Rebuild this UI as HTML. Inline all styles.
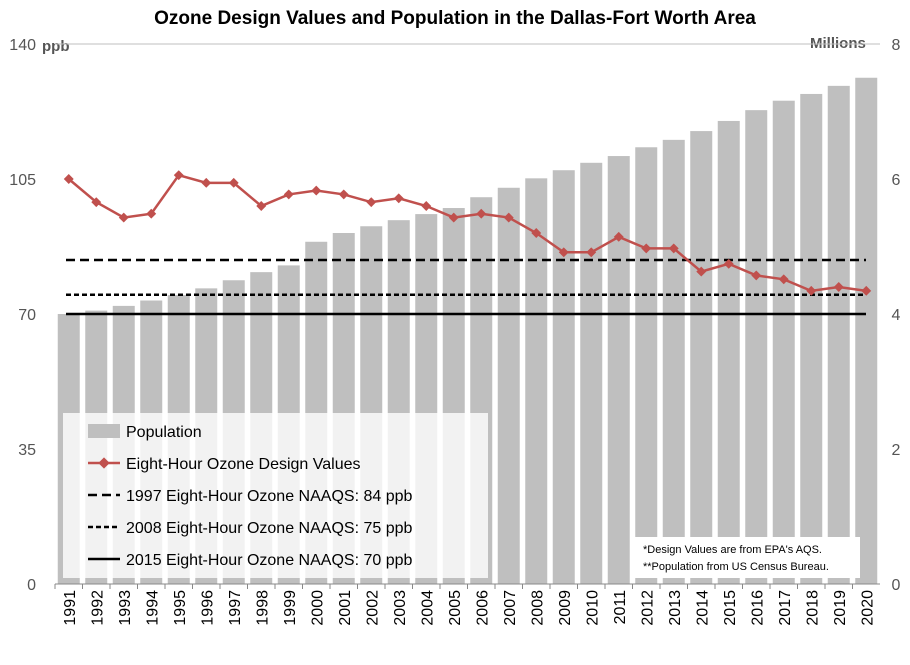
<!DOCTYPE html>
<html><head><meta charset="utf-8"><style>
body{margin:0;background:#fff;font-family:"Liberation Sans",sans-serif}
svg text{font-family:"Liberation Sans",sans-serif}
</style></head><body>
<svg id="chart" width="910" height="660" xmlns="http://www.w3.org/2000/svg">
<text x="455" y="24" text-anchor="middle" font-size="19" font-weight="bold" fill="#000">Ozone Design Values and Population in the Dallas-Fort Worth Area</text>
<text x="42" y="51" font-size="15" font-weight="bold" fill="#555">ppb</text>
<text x="810" y="48" font-size="15" font-weight="bold" fill="#555">Millions</text>
<g id="bars"></g><g id="refs"></g><g id="line"></g><g id="axes"></g>
<g>
<rect x="63" y="413" width="425" height="165" fill="#fff" fill-opacity="0.8"/>
<rect x="88" y="424" width="32" height="14" fill="#bfbfbf"/>
<text x="126" y="437" font-size="16" fill="#000">Population</text>
<line x1="88" y1="463" x2="120" y2="463" stroke="#c0504d" stroke-width="2.5"/>
<rect x="100" y="459" width="8" height="8" fill="#c0504d" transform="rotate(45 104 463)"/>
<text x="126" y="469" font-size="16" fill="#000">Eight-Hour Ozone Design Values</text>
<line x1="88" y1="495" x2="120" y2="495" stroke="#000" stroke-width="2.5" stroke-dasharray="9,5"/>
<text x="126" y="501" font-size="16" fill="#000">1997 Eight-Hour Ozone NAAQS: 84 ppb</text>
<line x1="88" y1="527" x2="120" y2="527" stroke="#000" stroke-width="2.5" stroke-dasharray="5,3"/>
<text x="126" y="533" font-size="16" fill="#000">2008 Eight-Hour Ozone NAAQS: 75 ppb</text>
<line x1="88" y1="559" x2="120" y2="559" stroke="#000" stroke-width="2.5"/>
<text x="126" y="565" font-size="16" fill="#000">2015 Eight-Hour Ozone NAAQS: 70 ppb</text>
</g>
<g>
<rect x="635" y="537" width="225" height="41" fill="#fff"/>
<text x="643" y="553" font-size="11" fill="#000">*Design Values are from EPA's AQS.</text>
<text x="643" y="570" font-size="11" fill="#000">**Population from US Census Bureau.</text>
</g>
</svg>
<script>
const years=[1991,1992,1993,1994,1995,1996,1997,1998,1999,2000,2001,2002,2003,2004,2005,2006,2007,2008,2009,2010,2011,2012,2013,2014,2015,2016,2017,2018,2019,2020];
const population=[4.0,4.05,4.12,4.2,4.28,4.38,4.5,4.62,4.72,5.07,5.2,5.3,5.39,5.48,5.57,5.73,5.87,6.01,6.13,6.24,6.34,6.47,6.58,6.71,6.86,7.02,7.16,7.26,7.38,7.5];
const ozone=[105,99,95,96,106,104,104,98,101,102,101,99,100,98,95,96,95,91,86,86,90,87,87,81,83,80,79,76,77,76];
const standards=[84,75,70];
const leftTicks=[0,35,70,105,140];
const rightTicks=[0,2,4,6,8];
const NS="http://www.w3.org/2000/svg";
const X0=55,X1=880,Y0=584,Y1=44,step=(X1-X0)/years.length;
const xc=i=>X0+step*(i+0.5);
const yL=v=>Y0-(v/140)*(Y0-Y1);
const yR=v=>Y0-(v/8)*(Y0-Y1);
function mk(t,a,p){const e=document.createElementNS(NS,t);for(const k in a)e.setAttribute(k,a[k]);p.appendChild(e);return e;}
const bars=document.getElementById('bars'),refs=document.getElementById('refs'),line=document.getElementById('line'),axes=document.getElementById('axes');
let g=mk('line',{x1:X0,y1:Y1,x2:X1,y2:Y1,stroke:'#bfbfbf','stroke-width':1},axes);


population.forEach((v,i)=>{const r=mk('rect',{x:xc(i)-11,y:yR(v),width:22,height:Y0-yR(v),fill:'#bfbfbf'},bars);

});
const dashes=['9,5','5,3',''];
standards.forEach((s,k)=>{const l=mk('line',{x1:66,x2:866,y1:yL(s),y2:yL(s),stroke:'#000','stroke-width':2.5},refs);
if(dashes[k])l.setAttribute('stroke-dasharray',dashes[k]);

});
const pts=ozone.map((v,i)=>xc(i)+','+yL(v)).join(' ');
const pl=mk('polyline',{points:pts,fill:'none',stroke:'#c0504d','stroke-width':2.5},line);


ozone.forEach((v,i)=>{const x=xc(i),y=yL(v);const m=mk('rect',{x:x-3.5,y:y-3.5,width:7,height:7,fill:'#c0504d',transform:`rotate(45 ${x} ${y})`},line);

});
mk('line',{x1:X0,y1:Y0,x2:X1,y2:Y0,stroke:'#888','stroke-width':1},axes);
leftTicks.forEach(t=>{const e=mk('text',{x:36,y:yL(t)+6,'text-anchor':'end','font-size':16,fill:'#555'},axes);e.textContent=t;

});
rightTicks.forEach(t=>{const e=mk('text',{x:896,y:yR(t)+6,'text-anchor':'middle','font-size':16,fill:'#555'},axes);e.textContent=t;

});
years.forEach((yr,i)=>{const x=xc(i)+6,y=590;const e=mk('text',{x:x,y:y,'text-anchor':'end','font-size':16,fill:'#000',transform:`rotate(-90 ${x} ${y})`},axes);e.textContent=yr;


mk('line',{x1:X0+step*i,y1:Y0,x2:X0+step*i,y2:Y0+5,stroke:'#888'},axes);});
</script>
</body></html>
